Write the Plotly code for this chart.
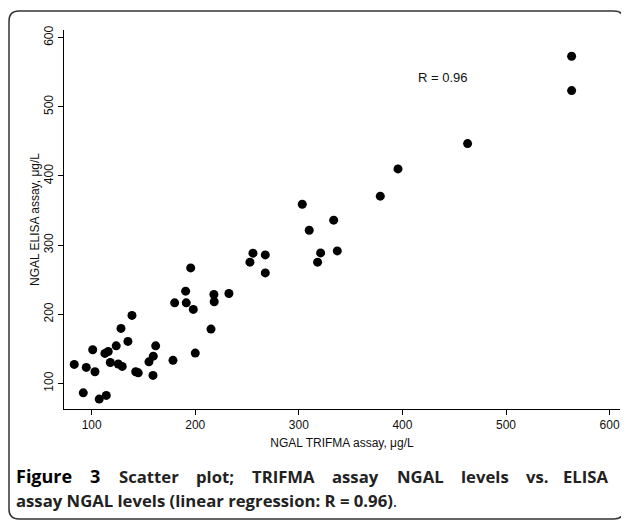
import plotly.graph_objects as go

# NGAL TRIFMA assay (x) vs NGAL ELISA assay (y), µg/L
trifma = [563.3, 563.3, 462.9, 395.7, 378.6, 303.3, 310.0, 333.6, 321.0, 318.1,
          337.1, 255.7, 267.6, 252.8, 267.6, 195.6, 190.7, 218.0, 232.5, 180.1,
          191.3, 218.3, 198.1, 215.2, 200.0, 178.5, 138.9, 128.3, 135.0, 123.7,
          101.0, 116.0, 112.8, 161.8, 159.5, 155.3, 83.2, 94.8, 103.2, 118.0,
          125.7, 129.5, 142.5, 145.0, 159.2, 91.9, 107.3, 114.1]
elisa = [573.0, 523.4, 446.8, 410.1, 370.7, 359.1, 321.5, 336.0, 288.7, 275.3,
         291.6, 288.3, 285.8, 275.3, 259.8, 267.0, 233.4, 228.6, 230.0, 216.5,
         216.5, 218.0, 207.0, 178.5, 143.8, 133.4, 198.3, 179.5, 160.7, 154.3,
         148.6, 146.2, 143.4, 154.3, 139.4, 131.2, 127.5, 123.1, 116.8, 130.3,
         128.0, 124.6, 116.8, 115.3, 111.6, 86.4, 77.3, 82.7]

x_ticks = [100, 200, 300, 400, 500, 600]
y_ticks = [100, 200, 300, 400, 500, 600]
x_title = "NGAL TRIFMA assay, μg/L"
y_title = "NGAL ELISA assay, μg/L"
r_label = "R = 0.96"
caption1_words = ["Figure", "3", "Scatter", "plot;", "TRIFMA", "assay", "NGAL",
                  "levels", "vs.", "ELISA"]
caption2 = "<b>assay NGAL levels (linear regression: R = 0.96)</b>."

# the page body has an 8px margin, so the figure is drawn 8px smaller and
# all reference pixel positions are shifted by OFF
OFF = 8
W, H = 621, 516
L, R, T, B = 56, 9, 22, 115
pw, ph = W - L - R, H - T - B

def px_x(p):
    return (p - OFF - L) / pw

def px_y(p):
    return (H - B - (p - OFF)) / ph

fig = go.Figure()
fig.add_trace(go.Scatter(
    x=trifma, y=elisa, mode="markers",
    marker=dict(size=9, color="black", line=dict(width=0)),
    showlegend=False, cliponaxis=False,
))

axis_font = dict(family="Liberation Sans, Arial, sans-serif", size=12, color="#111")

fig.update_layout(
    width=W, height=H,
    margin=dict(l=L, r=R, t=T, b=B),
    paper_bgcolor="white", plot_bgcolor="white",
    xaxis=dict(
        range=[73.3, 610], tickvals=x_ticks, ticks="outside", ticklen=5,
        tickwidth=1, tickcolor="black", showline=True, linecolor="black",
        linewidth=1, showgrid=False, zeroline=False, tickfont=axis_font,
        title=dict(text=x_title, font=axis_font, standoff=7),
    ),
    yaxis=dict(
        range=[63, 611], tickvals=y_ticks, ticks="outside", ticklen=5,
        tickwidth=1, tickcolor="black", showline=True, linecolor="black",
        linewidth=1, showgrid=False, zeroline=False, tickfont=axis_font,
        tickangle=-90,
        title=dict(text=y_title, font=axis_font, standoff=0),
    ),
)

fig.add_annotation(x=439, y=542.6, xref="x", yref="y", text=r_label,
                   showarrow=False,
                   font=dict(family="Liberation Sans, Arial, sans-serif", size=13, color="#111"))

cap_size = 16.7
cap_font = dict(family="Open Sans, sans-serif", size=cap_size, color="#222")
fig_font = dict(family="Open Sans, sans-serif", size=18, color="#000")

# justified first caption line: estimated word widths (em) for Open Sans Bold
em_w = {"F": .56, "i": .28, "g": .58, "u": .63, "r": .41, "e": .58, "3": .57,
        "S": .55, "c": .50, "a": .59, "t": .41, "p": .62, "l": .28, "o": .62,
        ";": .28, "T": .55, "R": .63, "I": .32, "M": .87, "A": .67, "s": .50,
        "y": .55, "N": .75, "G": .70, "L": .53, "v": .55, ".": .28, "E": .53}
fonts = [fig_font if i < 2 else cap_font for i in range(len(caption1_words))]
widths = [sum(em_w[c] for c in w) * f["size"] * 1.035
          for w, f in zip(caption1_words, fonts)]
left_px, right_px = 14, 610
gap = (right_px - left_px - sum(widths)) / (len(caption1_words) - 1)
xpos = left_px
for i, (w, wd) in enumerate(zip(caption1_words, widths)):
    last = i == len(caption1_words) - 1
    fig.add_annotation(x=px_x(right_px if last else xpos), y=px_y(476),
                       xref="paper", yref="paper",
                       xanchor="right" if last else "left", yanchor="middle",
                       text=f"<b>{w}</b>", showarrow=False, font=fonts[i])
    xpos += wd + gap

fig.add_annotation(x=px_x(14), y=px_y(500), xref="paper", yref="paper",
                   xanchor="left", yanchor="middle", text=caption2,
                   showarrow=False, font=cap_font)

# rounded border around the figure
x0, y0, x1, y1, rr = 9, 11, 624, 519, 10
def pt(a, b):
    return f"{px_x(a):.5f},{px_y(b):.5f}"
path = (f"M {pt(x0 + rr, y0)} L {pt(x1 - rr, y0)} Q {pt(x1, y0)} {pt(x1, y0 + rr)} "
        f"L {pt(x1, y1 - rr)} Q {pt(x1, y1)} {pt(x1 - rr, y1)} "
        f"L {pt(x0 + rr, y1)} Q {pt(x0, y1)} {pt(x0, y1 - rr)} "
        f"L {pt(x0, y0 + rr)} Q {pt(x0, y0)} {pt(x0 + rr, y0)} Z")
fig.add_shape(type="path", path=path, xref="paper", yref="paper",
              line=dict(color="#333", width=1.5), layer="above")

fig.write_html("out.html")
